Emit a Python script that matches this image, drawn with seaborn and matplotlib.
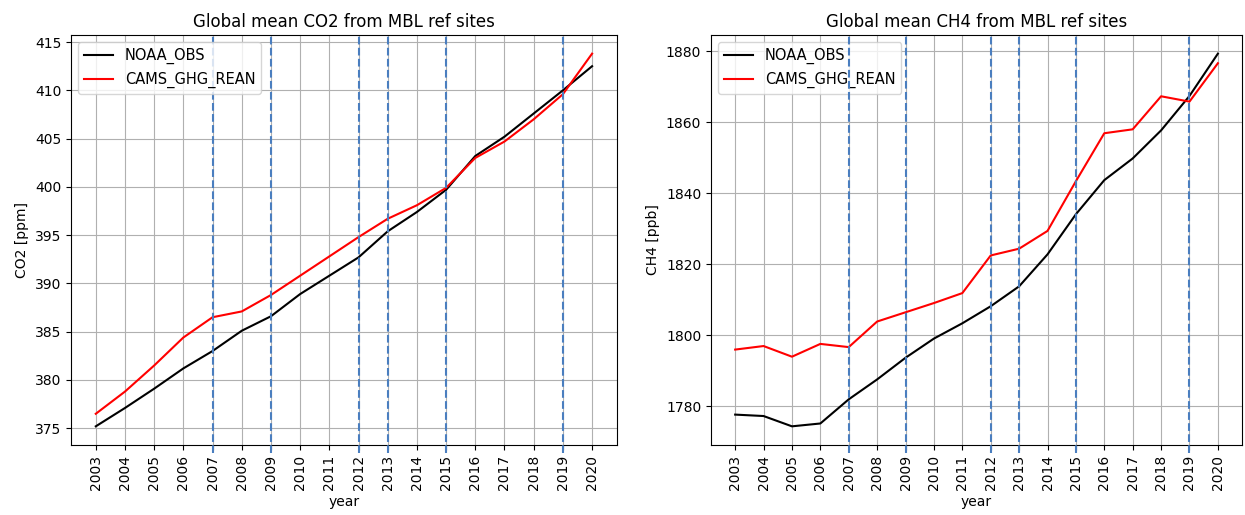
import pandas as pd
import numpy as np
import seaborn as sns
import matplotlib.pyplot as plt

years = list(range(2003, 2021))

# CO2 global mean [ppm]
co2_noaa = [375.2, 377.1, 379.1, 381.2, 383.0, 385.1, 386.6, 388.9, 390.8,
            392.7, 395.4, 397.4, 399.7, 403.2, 405.2, 407.6, 410.0, 412.5]
co2_cams = [376.5, 378.8, 381.5, 384.4, 386.5, 387.1, 388.8, 390.8, 392.8,
            394.8, 396.7, 398.1, 399.9, 403.0, 404.7, 407.0, 409.6, 413.8]

# CH4 global mean [ppb]
ch4_noaa = [1777.7, 1777.3, 1774.4, 1775.2, 1782.0, 1787.6, 1793.7, 1799.1, 1803.4,
            1808.2, 1813.8, 1822.8, 1834.1, 1843.7, 1849.8, 1857.7, 1867.4, 1879.3]
ch4_cams = [1796.0, 1797.0, 1794.0, 1797.6, 1796.7, 1803.9, 1806.5, 1809.1, 1811.9,
            1822.5, 1824.4, 1829.4, 1843.4, 1856.9, 1858.0, 1867.3, 1865.8, 1876.6]

# years marked with dashed lines
event_years = [2007, 2009, 2012, 2013, 2015, 2019]

fig = plt.figure(figsize=(12.45, 5.15), dpi=100)
ax1 = fig.add_axes([0.0570, 0.136, 0.4385, 0.796])
ax2 = fig.add_axes([0.5711, 0.136, 0.4265, 0.796])

dash_col = '#4a7ebf'

# ---- CO2
sns.lineplot(x=years, y=co2_noaa, color='black', label='NOAA_OBS', ax=ax1, lw=1.5)
sns.lineplot(x=years, y=co2_cams, color='red', label='CAMS_GHG_REAN', ax=ax1, lw=1.5)
ax1.set_title("Global mean CO2 from MBL ref sites", fontsize=12)
ax1.set_xlabel("year")
ax1.set_ylabel("CO2 [ppm]")
ax1.set_yticks(np.arange(375, 416, 5))
ax1.grid(True, color='#b0b0b0', lw=0.8)
for yr in event_years:
    ax1.axvline(yr, ymin=-0.02, ymax=1, color=dash_col, ls='--', lw=1.5, clip_on=False, zorder=3)
leg1 = ax1.legend(loc='upper left', fontsize=10.5)
leg1.set_zorder(5)

# ---- CH4
sns.lineplot(x=years, y=ch4_noaa, color='black', label='NOAA_OBS', ax=ax2, lw=1.5)
sns.lineplot(x=years, y=ch4_cams, color='red', label='CAMS_GHG_REAN', ax=ax2, lw=1.5)
ax2.set_title("Global mean CH4 from MBL ref sites", fontsize=12)
ax2.set_xlabel("year")
ax2.set_ylabel("CH4 [ppb]")
ax2.set_yticks(np.arange(1780, 1881, 20))
ax2.grid(True, color='#b0b0b0', lw=0.8)
leg2 = ax2.legend(loc='upper left', fontsize=10.5)
leg2.set_zorder(5)
for yr in event_years:
    ax2.axvline(yr, ymin=-0.02, ymax=1, color=dash_col, ls='--', lw=1.5, clip_on=False, zorder=6)

for ax in (ax1, ax2):
    ax.set_xticks(years)
    ax.set_xticklabels([str(y) for y in years], rotation=90)
    for s in ax.spines.values():
        s.set_color('black')

fig.savefig("out.png", dpi=100)
